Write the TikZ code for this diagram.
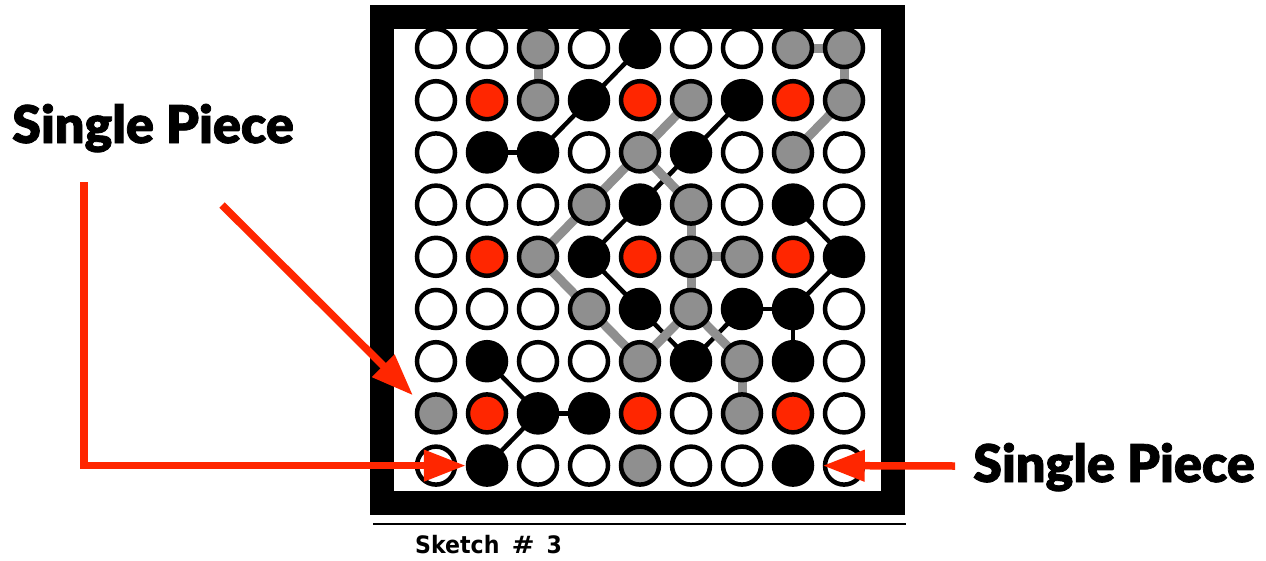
\documentclass[tikz,border=0pt]{standalone}
\usepackage{fontspec}
\newfontfamily\calloutfont{Lato Black}[FakeBold=1.5]
\newfontfamily\captionfont{DejaVu Sans Bold}[FakeStretch=0.92]
\usetikzlibrary{arrows.meta}
\pgfdeclarelayer{bg}
\pgfsetlayers{bg,main}
\definecolor{signal}{HTML}{FF2600}
\definecolor{pieceR}{HTML}{FF2600}
\definecolor{pieceG}{HTML}{8F8F8F}
\colorlet{pieceB}{black}
\colorlet{pieceW}{white}
\tikzset{
  piece/.style={circle,draw=black,line width=4.5pt,minimum size=38pt,inner sep=0pt},
  greylink/.style={draw=pieceG,line width=9pt},
  blacklink/.style={draw=black,line width=4.5pt},
  pointer/.style={draw=signal,line width=7.5pt,-{Triangle[length=42pt,width=30pt]}},
  callout/.style={font=\calloutfont\fontsize{52}{52}\selectfont,anchor=base west,inner sep=0pt},
}
\begin{document}
\begin{tikzpicture}[x=1pt,y=-1pt]
\useasboundingbox (0,0) rectangle (1266,560);
% --- board frame ---
\begin{pgfonlayer}{bg}
  \draw[line width=24pt,fill=white] (382,17) rectangle (893,503);
\end{pgfonlayer}
% --- pieces, row by row ---
\foreach \r/\line in {1/{W,W,G,W,B,W,W,G,G},2/{W,R,G,B,R,G,B,R,G},3/{W,B,B,W,G,B,W,G,W},
                      4/{W,W,W,G,B,G,W,B,W},5/{W,R,G,B,R,G,G,R,B},6/{W,W,W,G,B,G,B,B,W},
                      7/{W,B,W,W,G,B,G,B,W},8/{G,R,B,B,R,W,G,R,W},9/{W,B,W,W,G,W,W,B,W}}
  \foreach \k [count=\c] in \line
    \node[piece,fill=piece\k] (pc-\r-\c) at ({436+51*(\c-1)},{48+52.2*(\r-1)}) {};
% --- links under the pieces ---
\begin{pgfonlayer}{bg}
  \foreach \ra/\ca/\rb/\cb in {1/5/2/4,2/4/3/3,3/2/3/3,2/7/3/6,3/6/4/5,4/5/5/4,4/8/5/9,5/4/6/5,
                               6/5/7/6,7/6/6/7,6/7/6/8,6/8/5/9,6/8/7/8,7/2/8/3,8/3/8/4,8/3/9/2}
    \draw[blacklink] (pc-\ra-\ca.center) -- (pc-\rb-\cb.center);
  \foreach \ra/\ca/\rb/\cb in {1/3/2/3,1/8/1/9,1/9/2/9,2/9/3/8,2/6/3/5,3/5/4/4,4/4/5/3,3/5/4/6,
                               4/6/5/6,5/6/5/7,5/3/6/4,6/4/7/5,7/5/6/6,5/6/6/6,6/6/7/7,7/7/8/7}
    \draw[greylink] (pc-\ra-\ca.center) -- (pc-\rb-\cb.center);
\end{pgfonlayer}
% --- callouts ---
\node[callout] (label-left) at (12,143) {Single Piece};
\node[callout] (label-right) at (973,482) {Single Piece};
\coordinate (tail-a) at (222,205);
\coordinate (tail-b) at (84,182);
\coordinate (tail-c) at (955,466);
\draw[pointer] (tail-a) -- ([shift={(-8,-3)}]pc-8-1.north west);
\draw[pointer] (tail-b) |- (pc-9-2.west);
\draw[pointer] (tail-c) -- (pc-9-9.west);
% --- caption ---
\draw[line width=1.5pt] (373,524) -- (906,524);
\node[font=\captionfont\fontsize{24}{24}\selectfont,anchor=base west,inner sep=0pt] (caption) at (415,553)
  {Sketch\hspace{12pt}\scalebox{1.25}[1]{\#}\hspace{12pt}3};
\end{tikzpicture}
\end{document}
